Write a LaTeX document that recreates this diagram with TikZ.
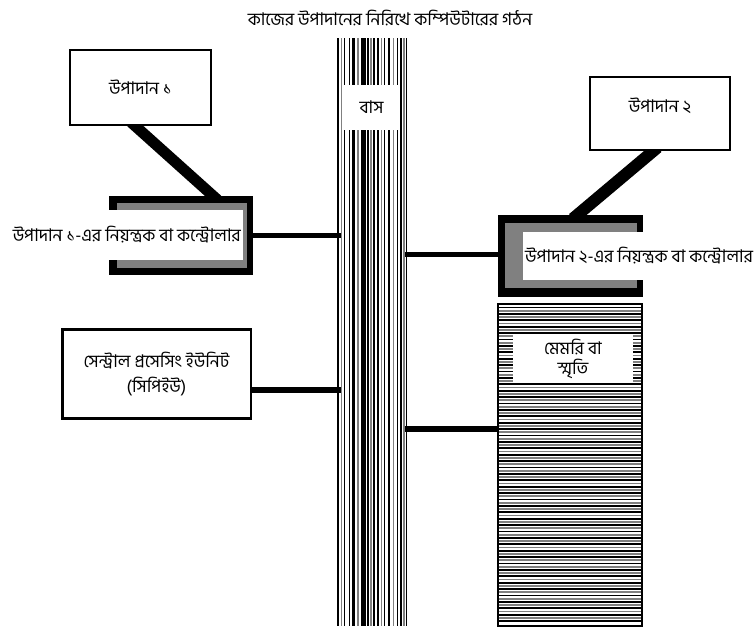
\documentclass[tikz,border=0pt]{standalone}
\usepackage{fontspec}
\newfontfamily\bn[Script=Bengali]{Hind Siliguri}
\usetikzlibrary{calc}
\pgfdeclarelayer{bg}
\pgfsetlayers{bg,main}
\begin{document}
\begin{tikzpicture}[x=1pt,y=-1pt,
  font=\bn\fontsize{17.5}{20}\selectfont,
  frame/.style={draw=black, line width=2.5pt, fill=white, inner sep=0pt},
  blk/.style={fill=black, draw=none, inner sep=0pt},
  label/.style={fill=white, inner sep=0pt},
  link/.style={line width=6pt},
  heavy/.style={line width=11pt}]
\useasboundingbox (0,0) rectangle (756,632);
\begin{pgfonlayer}{bg}
\fill[white] (0,0) rectangle (756,632);
\end{pgfonlayer}

% title
\node (title) at (390,18) {কাজের উপাদানের নিরিখে কম্পিউটারের গঠন};

% element boxes
\node[frame, minimum width=141, minimum height=75] (e1) at (140.5,87.5) {উপাদান ১};
\node[frame, minimum width=140, minimum height=73] (e2) at (660,113.5) {};
\node (e2t) at (660,106) {উপাদান ২};

% bus
\node[inner sep=0pt, minimum width=70, minimum height=588] (bus) at (372,332) {};
\foreach \a/\w/\c in {338/1.6/black, 341.2/1.4/gray, 344.6/1.6/black, 349.3/1.6/black,
  353.8/3.2/black, 358/2.8/gray, 363/5/black, 368/1.6/black, 370.8/1.8/gray,
  374.3/2.2/black, 377.7/2.2/black, 381.3/1.6/gray, 384.6/1.6/black, 389.2/1.9/black,
  393.3/1.6/gray, 397.3/1.6/black, 400.7/1.6/black, 404.3/2.2/gray, 406.6/1.6/black}
  { \fill[\c] (\a-\w/2,38) rectangle (\a+\w/2,626); }
\node[label, minimum width=57, minimum height=45] (buslabel) at (371.5,107.5) {বাস};

% controller 1
\node[blk, minimum width=144, minimum height=79] (c1) at (181,235.5) {};
\fill[gray] (117,203) rectangle (247,268);
\fill[white] (124,210) rectangle (243,260);
\node[label, anchor=east, minimum height=50, inner xsep=2pt] (c1t) at (243,235) {উপাদান ১-এর নিয়ন্ত্রক বা কন্ট্রোলার};

% controller 2
\node[blk, minimum width=145, minimum height=82] (c2) at (570.5,256) {};
\fill[gray] (505,223) rectangle (637,288);
\fill[white] (523,232) rectangle (637,280);
\node[label, anchor=west, minimum height=48, inner xsep=2pt] (c2t) at (523,256) {উপাদান ২-এর নিয়ন্ত্রক বা কন্ট্রোলার};

% CPU
\node[frame, minimum width=188.5, minimum height=89, align=center,
  font=\bn\fontsize{17.5}{25}\selectfont] (cpu) at (156.5,374) {সেন্ট্রাল প্রসেসিং ইউনিট\\(সিপিইউ)};

% memory
\node[inner sep=0pt, minimum width=144, minimum height=322] (mem) at (570,465) {};
\foreach \k in {0,...,49} { \fill[black] (499,306.5+6.4*\k) rectangle (641,308.3+6.4*\k); }
\foreach \k in {0,...,48} { \fill[gray] (499,309.7+6.4*\k) rectangle (641,311.5+6.4*\k); }
\draw[line width=2.5pt] (mem.north west) rectangle (mem.south east);
\node[label, minimum width=120, minimum height=48, align=center,
  font=\bn\fontsize{17.5}{20}\selectfont] (memlabel) at (573,359) {মেমরি বা\\স্মৃতি};

% connector end points
\coordinate (cpuout) at ([yshift=-16pt]cpu.east);
\coordinate (memin) at ([yshift=36pt]mem.west);
\coordinate (c2in) at ([yshift=2pt]c2.west);

% connectors
\begin{pgfonlayer}{bg}
\draw[heavy, shorten <=-6pt, shorten >=-6pt] ([xshift=-5pt]e1.south) -- ([xshift=32pt]c1.north);
\draw[heavy, line width=12pt, shorten <=-6pt, shorten >=-6pt] ([xshift=-7pt]e2.south) -- ([xshift=7pt]c2.north);
\draw[line width=5pt] (c1.east) -- ([xshift=4pt]bus.west |- c1.east);
\draw[line width=5pt] ([xshift=-4pt]bus.east |- c2in) -- (c2in);
\draw[link] (cpuout) -- ([xshift=4pt]bus.west |- cpuout);
\draw[link] ([xshift=-4pt]bus.east |- memin) -- (memin);
\end{pgfonlayer}
\end{tikzpicture}
\end{document}
